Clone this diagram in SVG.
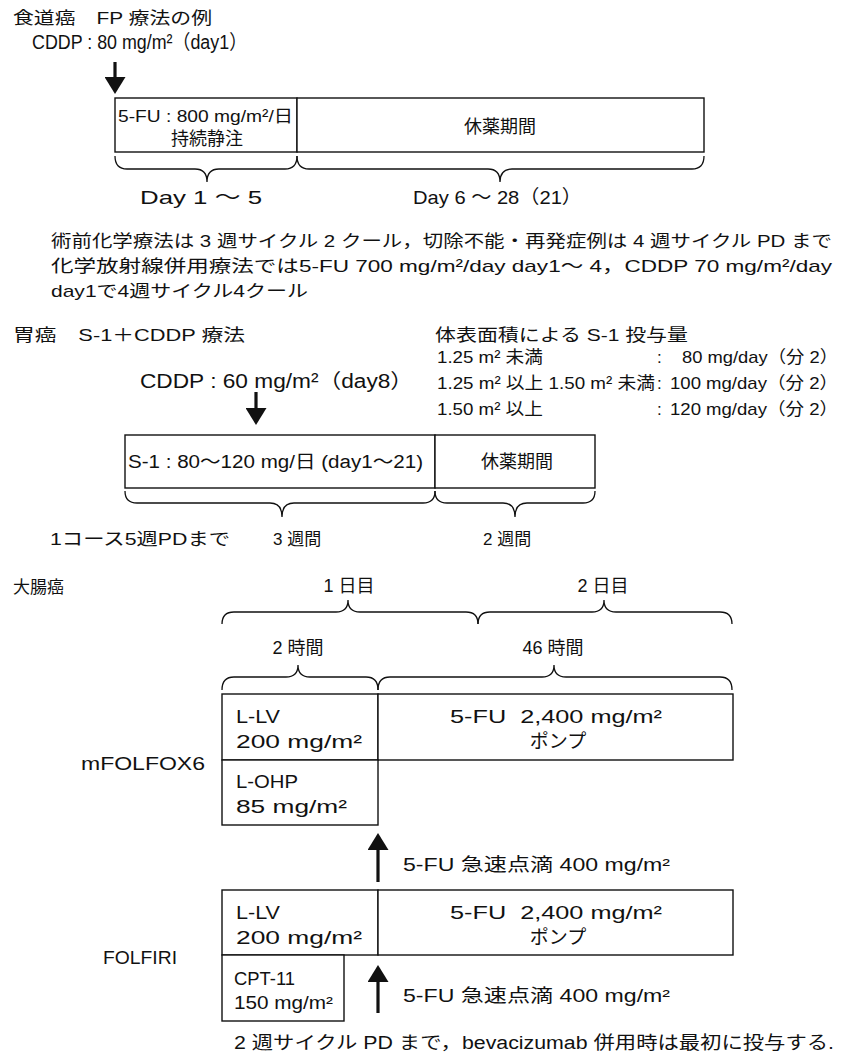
<svg xmlns="http://www.w3.org/2000/svg" width="841" height="1057" viewBox="0 0 841 1057">
<style>
.t{font-family:"Liberation Sans","Noto Sans CJK JP",sans-serif;fill:#111}
.s17{font-size:17px}.s18{font-size:18px}.s19{font-size:19px}.s20{font-size:20px}
.m{text-anchor:middle}.e{text-anchor:end}
.box{fill:#fff;stroke:#111;stroke-width:1.4}
.br{fill:none;stroke:#111;stroke-width:1.3}
.ar{fill:none;stroke:#111;stroke-width:3.2;marker-end:url(#ah)}
</style>
<defs>
<marker id="ah" viewBox="0 0 17 21" markerWidth="17" markerHeight="21" refX="9" refY="10.5" orient="auto" markerUnits="userSpaceOnUse">
<path d="M0,0 L17,10.5 L0,21 Z" fill="#111"/>
</marker>
</defs>
<rect width="841" height="1057" fill="#fff"/>

<!-- Section 1: 食道癌 -->
<g id="sec1-title">
<text class="t s17" x="13" y="24" textLength="199" lengthAdjust="spacingAndGlyphs">食道癌　FP 療法の例</text>
<text class="t s20" x="32" y="49" textLength="215" lengthAdjust="spacingAndGlyphs">CDDP : 80 mg/m²（day1）</text>
</g>
<g id="fp-5fu">
<rect class="box" x="115" y="98" width="182" height="54"/>
<text class="t s17" x="118" y="122" textLength="175" lengthAdjust="spacingAndGlyphs">5-FU : 800 mg/m²/日</text>
<text class="t s18 m" x="207" y="145">持続静注</text>
</g>
<g id="fp-rest">
<rect class="box" x="297" y="98" width="407" height="54"/>
<text class="t s18 m" x="500" y="133">休薬期間</text>
</g>
<g id="fp-days">
<path class="br" d="M115,156 Q115,169 127,169 L195,169 Q207,169 207,182 Q207,169 219,169 L285,169 Q297,169 297,156"/>
<path class="br" d="M297,156 Q297,169 309,169 L488,169 Q500,169 500,182 Q500,169 512,169 L692,169 Q704,169 704,156"/>
<text class="t s19" x="140" y="204" textLength="122" lengthAdjust="spacingAndGlyphs">Day 1 ～ 5</text>
<text class="t s19" x="413" y="204" textLength="169" lengthAdjust="spacingAndGlyphs">Day 6 ～ 28（21）</text>
</g>
<g id="fp-note">
<text class="t s17" x="51" y="247" textLength="781" lengthAdjust="spacingAndGlyphs">術前化学療法は 3 週サイクル 2 クール，切除不能・再発症例は 4 週サイクル PD まで</text>
<text class="t s17" x="51" y="272" textLength="781" lengthAdjust="spacingAndGlyphs">化学放射線併用療法では5-FU 700 mg/m²/day day1～ 4，CDDP 70 mg/m²/day</text>
<text class="t s17" x="51" y="297" textLength="257" lengthAdjust="spacingAndGlyphs">day1で4週サイクル4クール</text>
</g>

<!-- Section 2: 胃癌 -->
<g id="sec2-title">
<text class="t s17" x="13" y="341" textLength="232" lengthAdjust="spacingAndGlyphs">胃癌　S-1＋CDDP 療法</text>
<text class="t s20" x="140" y="388" textLength="273" lengthAdjust="spacingAndGlyphs">CDDP : 60 mg/m²（day8）</text>
</g>
<g id="s1-dose-table">
<text class="t s17" x="435" y="341" textLength="253" lengthAdjust="spacingAndGlyphs">体表面積による S-1 投与量</text>
<text class="t s17" x="437" y="363" textLength="106" lengthAdjust="spacingAndGlyphs">1.25 m² 未満</text>
<text class="t s17" x="657" y="363">:</text>
<text class="t s17 e" x="838" y="363" textLength="156" lengthAdjust="spacingAndGlyphs">80 mg/day（分 2）</text>
<text class="t s17" x="437" y="389" textLength="218" lengthAdjust="spacingAndGlyphs">1.25 m² 以上 1.50 m² 未満</text>
<text class="t s17" x="657" y="389">:</text>
<text class="t s17 e" x="838" y="389" textLength="168" lengthAdjust="spacingAndGlyphs">100 mg/day（分 2）</text>
<text class="t s17" x="437" y="415" textLength="106" lengthAdjust="spacingAndGlyphs">1.50 m² 以上</text>
<text class="t s17" x="657" y="415">:</text>
<text class="t s17 e" x="838" y="415" textLength="168" lengthAdjust="spacingAndGlyphs">120 mg/day（分 2）</text>
</g>
<g id="sp-s1">
<rect class="box" x="125" y="435" width="310" height="53"/>
<text class="t s18" x="128" y="468" textLength="295" lengthAdjust="spacingAndGlyphs">S-1 : 80～120 mg/日 (day1～21)</text>
</g>
<g id="sp-rest">
<rect class="box" x="435" y="435" width="160" height="53"/>
<text class="t s18 m" x="517" y="468">休薬期間</text>
</g>
<g id="sp-weeks">
<path class="br" d="M125,491 Q125,503 137,503 L270,503 Q282,503 282,517 Q282,503 294,503 L423,503 Q435,503 435,491"/>
<path class="br" d="M435,491 Q435,503 447,503 L503,503 Q515,503 515,517 Q515,503 527,503 L583,503 Q595,503 595,491"/>
<text class="t s17" x="50" y="545" textLength="180" lengthAdjust="spacingAndGlyphs">1コース5週PDまで</text>
<text class="t s17" x="273" y="545">3 週間</text>
<text class="t s17" x="483" y="545">2 週間</text>
</g>

<!-- Section 3: 大腸癌 -->
<g id="sec3-title">
<text class="t s17" x="13" y="593">大腸癌</text>
</g>
<g id="crc-timeline">
<text class="t s18 m" x="349" y="592">1 日目</text>
<text class="t s18 m" x="603" y="592">2 日目</text>
<path class="br" d="M222,624 Q222,612 234,612 L336,612 Q348,612 348,600 Q348,612 360,612 L466,612 Q478,612 478,624"/>
<path class="br" d="M478,624 Q478,612 490,612 L592,612 Q604,612 604,600 Q604,612 616,612 L720,612 Q732,612 732,624"/>
<text class="t s18 m" x="298" y="654">2 時間</text>
<text class="t s18 m" x="553" y="654">46 時間</text>
<path class="br" d="M222,690 Q222,677 234,677 L286,677 Q298,677 298,665 Q298,677 310,677 L366,677 Q378,677 378,690"/>
<path class="br" d="M378,690 Q378,677 390,677 L542,677 Q554,677 554,665 Q554,677 566,677 L720,677 Q732,677 732,690"/>
</g>
<g id="mfolfox6">
<text class="t s19" x="81" y="770" textLength="124" lengthAdjust="spacingAndGlyphs">mFOLFOX6</text>
</g>
<g id="mf-llv">
<rect class="box" x="222" y="694" width="156" height="66"/>
<text class="t s19" x="236" y="723" textLength="44" lengthAdjust="spacingAndGlyphs">L-LV</text>
<text class="t s19" x="236" y="748" textLength="126" lengthAdjust="spacingAndGlyphs">200 mg/m²</text>
</g>
<g id="mf-5fu">
<rect class="box" x="378" y="694" width="355" height="66"/>
<text class="t s19 m" x="556" y="723" textLength="212" lengthAdjust="spacingAndGlyphs">5-FU&#160; 2,400 mg/m²</text>
<text class="t s19 m" x="558" y="748">ポンプ</text>
</g>
<g id="mf-lohp">
<rect class="box" x="222" y="760" width="156" height="65"/>
<text class="t s19" x="236" y="788" textLength="62" lengthAdjust="spacingAndGlyphs">L-OHP</text>
<text class="t s19" x="236" y="813" textLength="111" lengthAdjust="spacingAndGlyphs">85 mg/m²</text>
</g>
<g id="bolus-1">
<text class="t s18" x="403" y="871" textLength="267" lengthAdjust="spacingAndGlyphs">5-FU 急速点滴 400 mg/m²</text>
</g>
<g id="folfiri">
<text class="t s19" x="103" y="964" textLength="74" lengthAdjust="spacingAndGlyphs">FOLFIRI</text>
</g>
<g id="ff-llv">
<rect class="box" x="222" y="890" width="156" height="65"/>
<text class="t s19" x="236" y="919" textLength="44" lengthAdjust="spacingAndGlyphs">L-LV</text>
<text class="t s19" x="236" y="944" textLength="126" lengthAdjust="spacingAndGlyphs">200 mg/m²</text>
</g>
<g id="ff-5fu">
<rect class="box" x="378" y="890" width="355" height="65"/>
<text class="t s19 m" x="556" y="919" textLength="212" lengthAdjust="spacingAndGlyphs">5-FU&#160; 2,400 mg/m²</text>
<text class="t s19 m" x="558" y="944">ポンプ</text>
</g>
<g id="ff-cpt11">
<rect class="box" x="222" y="955" width="122" height="66"/>
<text class="t s18" x="234" y="985" textLength="61" lengthAdjust="spacingAndGlyphs">CPT-11</text>
<text class="t s18" x="234" y="1009" textLength="99" lengthAdjust="spacingAndGlyphs">150 mg/m²</text>
</g>
<g id="bolus-2">
<text class="t s18" x="403" y="1002" textLength="267" lengthAdjust="spacingAndGlyphs">5-FU 急速点滴 400 mg/m²</text>
</g>
<g id="crc-note">
<text class="t s18" x="234" y="1049" textLength="600" lengthAdjust="spacingAndGlyphs">2 週サイクル PD まで，bevacizumab 併用時は最初に投与する.</text>
</g>

<g id="connectors">
<line class="ar" x1="115" y1="62" x2="115" y2="86"/>
<line class="ar" x1="256" y1="392" x2="256" y2="417"/>
<line class="ar" x1="378" y1="882" x2="378" y2="841"/>
<line class="ar" x1="378" y1="1013" x2="378" y2="973"/>
</g>
</svg>
